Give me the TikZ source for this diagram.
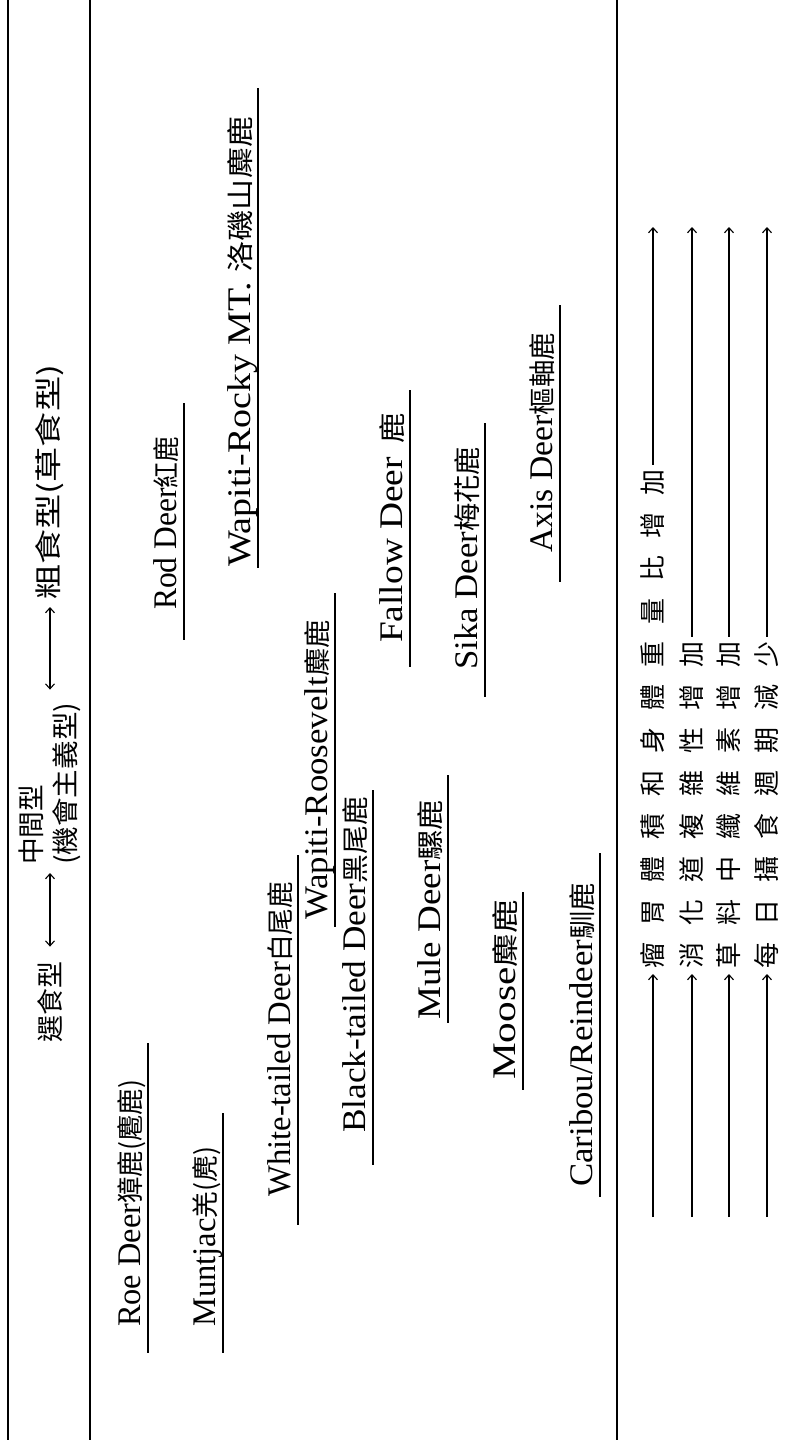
\documentclass[tikz,border=0pt]{standalone}
\usepackage{fontspec}
\usepackage{graphicx}
\setmainfont{Liberation Serif}
\newfontfamily\cjk{Noto Sans CJK TC}
\usetikzlibrary{arrows.meta}
\newcommand\cjkf{\cjk\fontsize{27}{30}\selectfont}
\newcommand\cg{\hspace{17pt}}
\newsavebox\fitbox
\newcommand\fitw[2]{\sbox\fitbox{#2}\pgfmathsetmacro\fitr{#1/\the\wd\fitbox}\scalebox{\fitr}[1]{\usebox\fitbox}}
\begin{document}
\begin{tikzpicture}[x=1pt,y=-1pt,
  frame/.style={line width=1.6pt},
  uline/.style={line width=1.1pt},
  ent/.style={rotate=90, anchor=base west, inner sep=0pt, font=\fontsize{33}{36}\selectfont},
  hd/.style={rotate=90, anchor=west, inner sep=0pt, font=\cjk\fontsize{27}{34}\selectfont},
  rp/.style={rotate=90, anchor=west, inner sep=5pt, font=\cjk\fontsize{26}{30}\selectfont},
  tip/.style={line width=1.1pt, -{Straight Barb[length=5pt,width=9pt]}},
  harrow/.style={line width=1.1pt, {Straight Barb[length=5pt,width=9pt]}-{Straight Barb[length=5pt,width=9pt]}}]
\useasboundingbox (0,0) rectangle (796,1440);
\fill[white] (0,0) rectangle (796,1440);
% frame lines
\draw[frame] (8,0) -- (8,1440);
\draw[frame] (90,0) -- (90,1440);
\draw[frame] (617,0) -- (617,1440);
% header
\node[hd] (hsel) at (50,1043) {\fitw{81}{選食型}};
\node[hd, align=left] (hmid) at (50,865) {\fitw{80}{中間型}\\\fitw{162}{(機會主義型)}};
\node[hd] (hcoarse) at (50,600) {\fitw{235}{粗食型(草食型)}};
\draw[harrow, shorten <=15pt, shorten >=8pt] (hsel.east) -- (hmid.west);
\draw[harrow, shorten <=13pt, shorten >=7pt] (hmid.east) -- (hcoarse.west);
% species
\node[ent] (roe) at (140,1327) {\fitw{247}{Roe Deer{\cjkf 獐鹿(麅鹿)}}};
\node[ent] (munt) at (215,1327) {\fitw{180}{Muntjac{\cjkf 羌(麂)}}};
\node[ent] (white) at (290,1197) {\fitw{315}{White-tailed Deer{\cjkf 白尾鹿}}};
\node[ent] (wroos) at (327,920) {\fitw{300}{Wapiti-Roosevelt{\cjkf 麋鹿}}};
\node[ent] (black) at (365,1133) {\fitw{336}{Black-tailed Deer{\cjkf 黑尾鹿}}};
\node[ent] (rod) at (176,610) {\fitw{173}{Rod Deer{\cjkf 紅鹿}}};
\node[ent] (rocky) at (250,567) {\fitw{450}{Wapiti-Rocky MT. {\cjkf 洛磯山麋鹿}}};
\node[ent] (fallow) at (402,643) {\fitw{230}{Fallow Deer\hspace{12pt}{\cjkf 鹿}}};
\node[ent] (mule) at (440,1020) {\fitw{220}{Mule Deer{\cjkf 騾鹿}}};
\node[ent] (sika) at (477,670) {\fitw{223}{Sika Deer{\cjkf 梅花鹿}}};
\node[ent] (axis) at (552,553) {\fitw{220}{Axis Deer{\cjkf 樞軸鹿}}};
\node[ent] (moose) at (515,1080) {\fitw{180}{Moose{\cjkf 麋鹿}}};
\node[ent] (caribou) at (592,1187) {\fitw{304}{Caribou/Reindeer{\cjkf 馴鹿}}};
% underlines
\draw[uline] (148,1043) -- (148,1353);
\draw[uline] (223,1113) -- (223,1353);
\draw[uline] (298,855) -- (298,1225);
\draw[uline] (335,593) -- (335,927);
\draw[uline] (373,790) -- (373,1165);
\draw[uline] (184,403) -- (184,640);
\draw[uline] (258,88) -- (258,568);
\draw[uline] (410,390) -- (410,667);
\draw[uline] (448,775) -- (448,1023);
\draw[uline] (485,423) -- (485,697);
\draw[uline] (560,305) -- (560,582);
\draw[uline] (523,892) -- (523,1090);
\draw[uline] (600,853) -- (600,1197);
% right panel
\node[rp] (r1) at (653,974) {瘤\cg 胃\cg 體\cg 積\cg 和\cg 身\cg 體\cg 重\cg 量\cg 比\cg 增\cg 加};
\node[rp] (r2) at (692,974) {消\cg 化\cg 道\cg 複\cg 雜\cg 性\cg 增\cg 加};
\node[rp] (r3) at (729,974) {草\cg 料\cg 中\cg 纖\cg 維\cg 素\cg 增\cg 加};
\node[rp] (r4) at (767,974) {每\cg 日\cg 攝\cg 食\cg 週\cg 期\cg 減\cg 少};
\coordinate (a1) at (653,1217); \coordinate (b1) at (653,227);
\coordinate (a2) at (692,1217); \coordinate (b2) at (692,227);
\coordinate (a3) at (729,1217); \coordinate (b3) at (729,227);
\coordinate (a4) at (767,1217); \coordinate (b4) at (767,227);
\draw[tip] (a1) -- (r1.west); \draw[tip] (r1.east) -- (b1);
\draw[tip] (a2) -- (r2.west); \draw[tip] (r2.east) -- (b2);
\draw[tip] (a3) -- (r3.west); \draw[tip] (r3.east) -- (b3);
\draw[tip] (a4) -- (r4.west); \draw[tip] (r4.east) -- (b4);
\end{tikzpicture}
\end{document}
